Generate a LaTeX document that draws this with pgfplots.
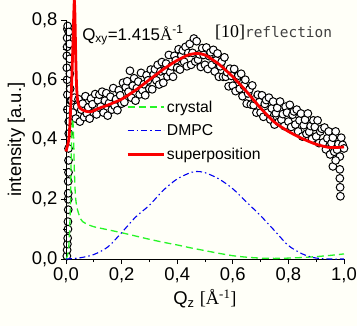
\documentclass[border=0pt]{standalone}
\usepackage{pgfplots}
\pgfplotsset{compat=1.18}
\usepackage{fontspec}
\setmainfont{Liberation Sans}
\newfontfamily\seriffont{Liberation Serif}
\newfontfamily\monofont{DejaVu Sans Mono}
\definecolor{bgcream}{RGB}{255,255,248}
\definecolor{cgreen}{RGB}{40,245,40}
\definecolor{cblue}{RGB}{0,0,240}
\definecolor{cred}{RGB}{250,0,0}

\begin{document}
\begin{tikzpicture}
\useasboundingbox[fill=bgcream] (-66bp,-67bp) rectangle (291bp,259bp);
% layer 1: measured data (open circles) and legend
\begin{axis}[
  scale only axis,
  width=278bp, height=239bp,
  xmin=0, xmax=1, ymin=0, ymax=0.8,
  clip=false, axis lines=none,
  legend style={at={(0.205,0.68)}, anchor=north west, draw=none, fill=none,
    font=\fontsize{15.8}{17}\selectfont, row sep=7bp},
  legend cell align=left,
  legend image code/.code={\draw[#1] (0bp,0bp) -- (36bp,0bp);},
]
\addplot[only marks, mark=*, mark size=3.9pt,
  mark options={fill=white, draw=black, line width=1pt}, forget plot]
table[row sep=\\]{
x y\\
0.003 0.01\\ 0.004 0.03\\ 0.005 0.05\\ 0.006 0.07\\ 0.007 0.10\\ 0.007 0.125\\
0.008 0.165\\ 0.008 0.20\\ 0.008 0.22\\ 0.008 0.26\\ 0.009 0.29\\ 0.009 0.33\\
0.009 0.37\\ 0.010 0.42\\ 0.010 0.46\\ 0.005 0.50\\ 0.005 0.55\\ 0.004 0.60\\
0.003 0.64\\ 0.003 0.68\\ 0.004 0.71\\ 0.004 0.74\\ 0.005 0.77\\ 0.006 0.78\\
0.010 0.76\\ 0.012 0.72\\ 0.013 0.67\\ 0.014 0.62\\ 0.015 0.57\\ 0.017 0.53\\
0.020 0.530\\ 0.025 0.490\\ 0.030 0.540\\ 0.035 0.470\\ 0.040 0.510\\
0.045 0.535\\ 0.050 0.460\\ 0.055 0.500\\ 0.060 0.520\\ 0.065 0.475\\
0.070 0.545\\ 0.075 0.487\\ 0.080 0.508\\ 0.085 0.470\\ 0.090 0.537\\
0.095 0.518\\ 0.100 0.490\\ 0.105 0.552\\ 0.110 0.484\\ 0.115 0.531\\
0.120 0.550\\ 0.125 0.510\\ 0.130 0.560\\ 0.135 0.490\\ 0.140 0.530\\
0.145 0.555\\ 0.150 0.480\\ 0.155 0.522\\ 0.160 0.543\\ 0.165 0.500\\
0.170 0.572\\ 0.175 0.513\\ 0.180 0.535\\ 0.185 0.498\\ 0.190 0.565\\
0.195 0.548\\ 0.200 0.520\\ 0.205 0.590\\ 0.210 0.525\\ 0.215 0.575\\
0.220 0.595\\ 0.225 0.560\\ 0.230 0.630\\ 0.235 0.540\\ 0.240 0.580\\
0.245 0.605\\ 0.250 0.530\\ 0.255 0.572\\ 0.260 0.594\\ 0.265 0.551\\
0.270 0.623\\ 0.275 0.565\\ 0.280 0.585\\ 0.285 0.548\\ 0.290 0.615\\
0.295 0.598\\ 0.300 0.570\\ 0.305 0.634\\ 0.310 0.568\\ 0.315 0.617\\
0.320 0.635\\ 0.325 0.598\\ 0.330 0.650\\ 0.335 0.584\\ 0.340 0.628\\
0.345 0.659\\ 0.350 0.590\\ 0.355 0.632\\ 0.360 0.654\\ 0.365 0.611\\
0.370 0.683\\ 0.375 0.625\\ 0.380 0.645\\ 0.385 0.610\\ 0.390 0.680\\
0.395 0.665\\ 0.400 0.640\\ 0.405 0.702\\ 0.410 0.634\\ 0.415 0.681\\
0.420 0.698\\ 0.425 0.660\\ 0.430 0.710\\ 0.435 0.645\\ 0.440 0.690\\
0.445 0.720\\ 0.450 0.650\\ 0.455 0.690\\ 0.460 0.738\\ 0.465 0.661\\
0.470 0.729\\ 0.475 0.667\\ 0.480 0.685\\ 0.485 0.643\\ 0.490 0.706\\
0.495 0.683\\ 0.500 0.650\\ 0.505 0.708\\ 0.510 0.636\\ 0.515 0.679\\
0.520 0.692\\ 0.525 0.650\\ 0.530 0.700\\ 0.535 0.628\\ 0.540 0.665\\
0.545 0.688\\ 0.550 0.610\\ 0.555 0.645\\ 0.560 0.660\\ 0.565 0.610\\
0.570 0.675\\ 0.575 0.610\\ 0.580 0.625\\ 0.585 0.578\\ 0.590 0.637\\
0.595 0.613\\ 0.600 0.580\\ 0.605 0.636\\ 0.610 0.562\\ 0.615 0.603\\
0.620 0.614\\ 0.625 0.570\\ 0.630 0.620\\ 0.635 0.545\\ 0.640 0.580\\
0.645 0.600\\ 0.650 0.520\\ 0.655 0.554\\ 0.660 0.568\\ 0.665 0.517\\
0.670 0.581\\ 0.675 0.515\\ 0.680 0.535\\ 0.685 0.490\\ 0.690 0.550\\
0.695 0.525\\ 0.700 0.490\\ 0.705 0.548\\ 0.710 0.476\\ 0.715 0.519\\
0.720 0.532\\ 0.725 0.490\\ 0.730 0.540\\ 0.735 0.467\\ 0.740 0.504\\
0.745 0.527\\ 0.750 0.450\\ 0.755 0.488\\ 0.760 0.506\\ 0.765 0.459\\
0.770 0.527\\ 0.775 0.466\\ 0.780 0.485\\ 0.785 0.445\\ 0.790 0.510\\
0.795 0.490\\ 0.800 0.460\\ 0.805 0.516\\ 0.810 0.442\\ 0.815 0.483\\
0.820 0.494\\ 0.825 0.450\\ 0.830 0.500\\ 0.835 0.427\\ 0.840 0.464\\
0.845 0.487\\ 0.850 0.410\\ 0.855 0.448\\ 0.860 0.466\\ 0.865 0.419\\
0.870 0.487\\ 0.875 0.426\\ 0.880 0.445\\ 0.885 0.402\\ 0.890 0.464\\
0.895 0.442\\ 0.900 0.410\\ 0.905 0.464\\ 0.910 0.388\\ 0.915 0.427\\
0.920 0.436\\ 0.925 0.390\\ 0.930 0.440\\ 0.935 0.367\\ 0.940 0.404\\
0.945 0.427\\ 0.950 0.350\\ 0.955 0.388\\ 0.960 0.406\\ 0.965 0.359\\
0.970 0.427\\ 0.975 0.366\\ 0.980 0.385\\ 0.985 0.343\\ 0.990 0.406\\
0.995 0.382\\ 1.000 0.370\\
0.960 0.310\\ 0.970 0.330\\ 0.985 0.300\\ 0.985 0.270\\ 0.986 0.240\\ 0.987 0.210\\
};
\addlegendimage{cgreen, line width=1.3pt, dash pattern=on 7bp off 4bp}
\addlegendentry{crystal}
\addlegendimage{cblue, line width=1.1pt, dash pattern=on 6bp off 3bp on 1.5bp off 3bp}
\addlegendentry{DMPC}
\addlegendimage{cred, line width=2.8pt}
\addlegendentry{superposition}
\end{axis}
% layer 2: axes and fitted curves
\begin{axis}[
  scale only axis,
  width=278bp, height=239bp,
  xmin=0, xmax=1, ymin=0, ymax=0.8,
  clip=false,
  axis x line*=bottom, axis y line*=left,
  axis line style={line width=0.9pt, -},
  tick align=outside,
  major tick length=5bp, minor tick length=3bp,
  every tick/.style={black, line width=0.8pt},
  xtick={0,0.2,0.4,0.6,0.8,1.0},
  ytick={0,0.2,0.4,0.6,0.8},
  minor tick num=1,
  /pgf/number format/assume math mode=true,
  xticklabel style={/pgf/number format/.cd, fixed, fixed zerofill, precision=1, use comma},
  yticklabel style={/pgf/number format/.cd, fixed, fixed zerofill, precision=1, use comma},
  ticklabel style={font=\fontsize{18.5}{20}\selectfont},
  label style={font=\fontsize{18.5}{20}\selectfont},
  xlabel={Q\textsubscript{z} {\seriffont[Å\textsuperscript{-1}]}},
  ylabel={intensity [a.u.]},
]
% crystal
\addplot[color=cgreen, line width=1.3pt, dash pattern=on 7bp off 4bp, smooth, tension=0.4]
table[row sep=\\]{
x y\\
0 0\\ 0.005 0.01\\ 0.010 0.04\\ 0.015 0.15\\ 0.018 0.30\\ 0.021 0.43\\
0.024 0.47\\ 0.027 0.42\\ 0.030 0.30\\ 0.034 0.21\\ 0.040 0.17\\ 0.050 0.14\\
0.060 0.125\\ 0.080 0.115\\ 0.100 0.108\\ 0.150 0.098\\ 0.200 0.088\\
0.250 0.077\\ 0.300 0.066\\ 0.350 0.056\\ 0.400 0.047\\ 0.450 0.037\\
0.500 0.028\\ 0.550 0.019\\ 0.600 0.011\\ 0.650 0.006\\ 0.700 0.003\\
0.750 0.002\\ 0.800 0.003\\ 0.850 0.005\\ 0.900 0.008\\ 0.950 0.012\\ 1.000 0.017\\
};
% DMPC
\addplot[color=cblue, line width=1.1pt, dash pattern=on 6bp off 3bp on 1.5bp off 3bp, smooth, tension=0.5]
table[row sep=\\]{
x y\\
0 0\\ 0.05 0.004\\ 0.10 0.015\\ 0.15 0.040\\ 0.20 0.088\\ 0.25 0.140\\
0.30 0.180\\ 0.35 0.230\\ 0.40 0.268\\ 0.45 0.290\\ 0.47 0.293\\ 0.50 0.289\\
0.55 0.268\\ 0.60 0.235\\ 0.65 0.190\\ 0.70 0.145\\ 0.75 0.095\\ 0.80 0.045\\
0.85 0.017\\ 0.88 0.007\\ 0.90 0.003\\ 0.95 0.0\\ 1.00 0.0\\
};
% superposition
\addplot[color=cred, line width=2.8pt, smooth, tension=0.4]
table[row sep=\\]{
x y\\
0.000 0.36\\ 0.010 0.40\\ 0.015 0.47\\ 0.020 0.58\\ 0.025 0.72\\ 0.028 0.82\\
0.030 0.866\\ 0.032 0.82\\ 0.035 0.68\\ 0.038 0.58\\ 0.042 0.53\\ 0.050 0.505\\
0.070 0.495\\ 0.090 0.493\\ 0.120 0.505\\ 0.150 0.515\\ 0.200 0.535\\
0.250 0.565\\ 0.300 0.600\\ 0.350 0.635\\ 0.400 0.665\\ 0.440 0.683\\
0.470 0.688\\ 0.500 0.683\\ 0.550 0.652\\ 0.600 0.610\\ 0.650 0.560\\
0.700 0.505\\ 0.750 0.458\\ 0.800 0.427\\ 0.850 0.403\\ 0.900 0.384\\
0.950 0.373\\ 1.000 0.375\\
};

\node[anchor=base west, font=\fontsize{17}{18}\selectfont, inner sep=0pt]
  at (axis cs:0.058,0.733) {Q\textsubscript{xy}=1.415{\seriffont Å}\textsuperscript{-1}};
\node[anchor=base west, inner sep=0pt]
  at (axis cs:0.536,0.74) {{\seriffont\fontsize{18}{19}\selectfont[10]}{\monofont\fontsize{14.5}{16}\selectfont\color{black!75}reflection}};
\end{axis}
\end{tikzpicture}
\end{document}
